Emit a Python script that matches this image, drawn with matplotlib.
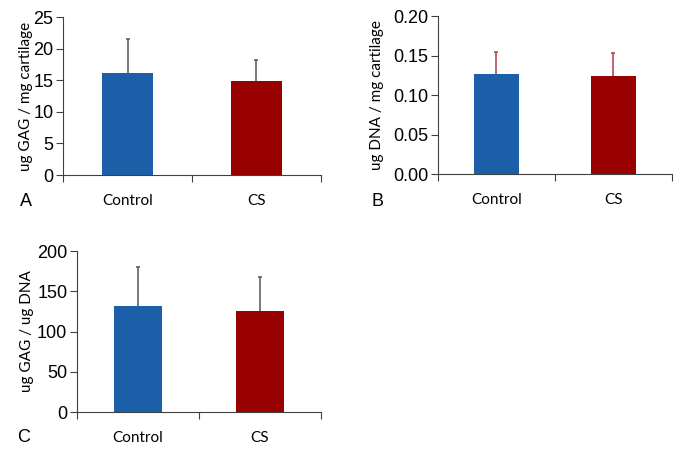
import matplotlib
matplotlib.use("Agg")
import matplotlib.pyplot as plt
import numpy as np

groups = ["Control", "CS"]
bar_colors = ["#1a5fa8", "#990000"]

gag_mean = [16.1, 14.8]
gag_err = [5.5, 3.4]

dna_mean = [0.127, 0.124]
dna_err = [0.028, 0.029]

ratio_mean = [132, 126]
ratio_err = [48, 42]

num_font = "Liberation Sans"
txt_font = "Lato"


def panel(ax, means, errs, ylim, yticks, fmt, ylabel, err_color, label_x):
    x = np.arange(len(groups))
    ax.bar(x, means, width=0.39, color=bar_colors, zorder=2)
    eb = ax.errorbar(x, means, yerr=[np.zeros(len(errs)), errs], fmt="none",
                     ecolor=err_color, elinewidth=1.1, capsize=1.5, capthick=1.1, zorder=3)
    # only the upper cap is drawn in the original
    eb[1][0].set_visible(False)
    ax.set_xlim(-0.5, 1.5)
    ax.set_ylim(*ylim)
    ax.set_yticks(yticks)
    ax.set_yticklabels([fmt.format(v) for v in yticks], family=num_font, fontsize=13)
    ax.set_xticks([-0.5, 0.5, 1.5])
    ax.set_xticklabels([])
    ax.set_xticks(x, minor=True)
    ax.set_xticklabels(groups, minor=True, family=txt_font, fontsize=11)
    ax.tick_params(axis="x", which="major", direction="out", length=5, width=0.8, color="#404040")
    ax.tick_params(axis="x", which="minor", length=0, pad=14)
    ax.tick_params(axis="y", direction="out", length=5, width=0.8, color="#404040", pad=2)
    ax.set_ylabel(ylabel, family=txt_font, fontsize=11)
    ax.yaxis.set_label_coords(label_x, 0.5)
    for s in ["top", "right"]:
        ax.spines[s].set_visible(False)
    for s in ["left", "bottom"]:
        ax.spines[s].set_linewidth(0.8)
        ax.spines[s].set_color("#404040")


fig = plt.figure(figsize=(6.85, 4.54), dpi=100)

axA = fig.add_axes([0.092, 0.6145, 0.3766, 0.348])
panel(axA, gag_mean, gag_err, (0, 25), [0, 5, 10, 15, 20, 25], "{:.0f}",
      "ug GAG / mg cartilage", "#555555", -0.115)

axB = fig.add_axes([0.6394, 0.6167, 0.3416, 0.348])
panel(axB, dna_mean, dna_err, (0, 0.2), [0, 0.05, 0.10, 0.15, 0.20], "{:.2f}",
      "ug DNA / mg cartilage", "#b03a48", -0.23)

axC = fig.add_axes([0.1124, 0.0925, 0.3562, 0.3546])
panel(axC, ratio_mean, ratio_err, (0, 200), [0, 50, 100, 150, 200], "{:.0f}",
      "ug GAG / ug DNA", "#555555", -0.178)

fig.text(20 / 685, 1 - 202 / 454, "A", family=num_font, fontsize=13, ha="left", va="center")
fig.text(371 / 685, 1 - 202 / 454, "B", family=num_font, fontsize=13, ha="left", va="center")
fig.text(17 / 685, 1 - 438 / 454, "C", family=num_font, fontsize=13, ha="left", va="center")

fig.savefig("out.png", dpi=100)
